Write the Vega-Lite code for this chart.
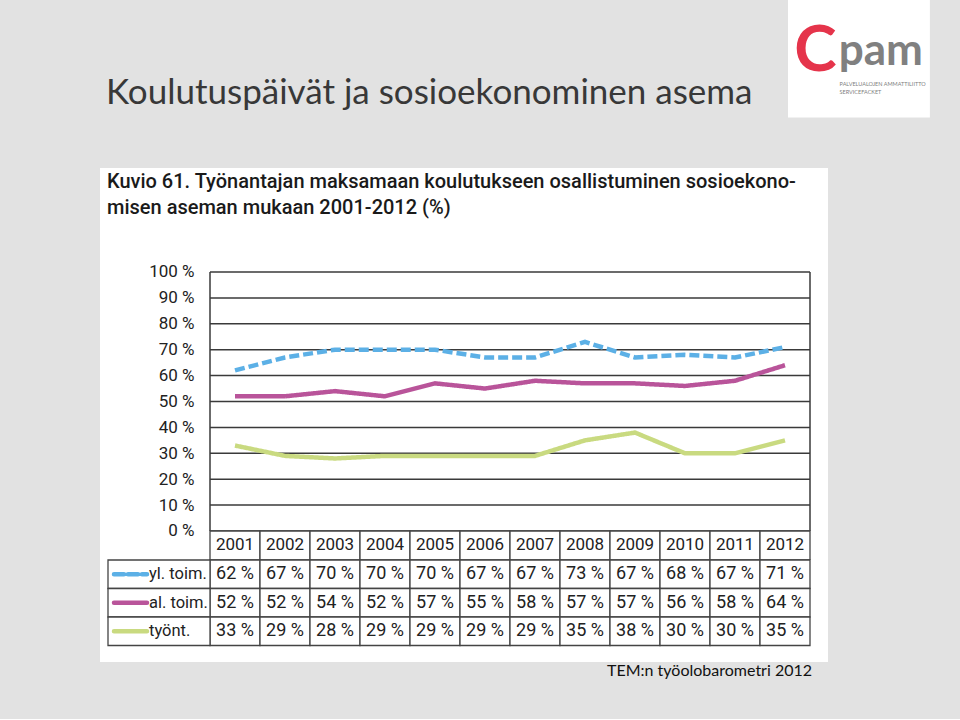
{
  "$schema": "https://vega.github.io/schema/vega-lite/v6.json",
  "background": "#e2e2e2",
  "padding": {"left": 100, "top": 0, "right": 0, "bottom": 40},
  "bounds": "flush",
  "spacing": 0,
  "config": {"view": {"stroke": null}},
  "datasets": {
    "d": [
      {"year": 2001, "series": "yl. toim.", "value": 62},
      {"year": 2002, "series": "yl. toim.", "value": 67},
      {"year": 2003, "series": "yl. toim.", "value": 70},
      {"year": 2004, "series": "yl. toim.", "value": 70},
      {"year": 2005, "series": "yl. toim.", "value": 70},
      {"year": 2006, "series": "yl. toim.", "value": 67},
      {"year": 2007, "series": "yl. toim.", "value": 67},
      {"year": 2008, "series": "yl. toim.", "value": 73},
      {"year": 2009, "series": "yl. toim.", "value": 67},
      {"year": 2010, "series": "yl. toim.", "value": 68},
      {"year": 2011, "series": "yl. toim.", "value": 67},
      {"year": 2012, "series": "yl. toim.", "value": 71},
      {"year": 2001, "series": "al. toim.", "value": 52},
      {"year": 2002, "series": "al. toim.", "value": 52},
      {"year": 2003, "series": "al. toim.", "value": 54},
      {"year": 2004, "series": "al. toim.", "value": 52},
      {"year": 2005, "series": "al. toim.", "value": 57},
      {"year": 2006, "series": "al. toim.", "value": 55},
      {"year": 2007, "series": "al. toim.", "value": 58},
      {"year": 2008, "series": "al. toim.", "value": 57},
      {"year": 2009, "series": "al. toim.", "value": 57},
      {"year": 2010, "series": "al. toim.", "value": 56},
      {"year": 2011, "series": "al. toim.", "value": 58},
      {"year": 2012, "series": "al. toim.", "value": 64},
      {"year": 2001, "series": "työnt.", "value": 33},
      {"year": 2002, "series": "työnt.", "value": 29},
      {"year": 2003, "series": "työnt.", "value": 28},
      {"year": 2004, "series": "työnt.", "value": 29},
      {"year": 2005, "series": "työnt.", "value": 29},
      {"year": 2006, "series": "työnt.", "value": 29},
      {"year": 2007, "series": "työnt.", "value": 29},
      {"year": 2008, "series": "työnt.", "value": 35},
      {"year": 2009, "series": "työnt.", "value": 38},
      {"year": 2010, "series": "työnt.", "value": 30},
      {"year": 2011, "series": "työnt.", "value": 30},
      {"year": 2012, "series": "työnt.", "value": 35}
    ]
  },
  "vconcat": [
    {
      "width": 860,
      "height": 168,
      "title": {
        "text": "Koulutuspäivät ja sosioekonominen asema",
        "anchor": "start",
        "orient": "top",
        "baseline": "alphabetic",
        "offset": -139,
        "dx": 6,
        "font": "Lato",
        "fontSize": 35,
        "fontWeight": "normal",
        "color": "#383838"
      },
      "data": {"values": [{"k": 1}]},
      "layer": [
        {
          "mark": {"type": "rect", "color": "white"},
          "encoding": {
            "x": {"datum": 0.800, "type": "quantitative", "scale": {"domain": [0, 1], "nice": false}, "axis": null},
            "x2": {"datum": 0.965},
            "y": {"datum": 0, "type": "quantitative", "scale": {"domain": [0, 1], "reverse": true, "nice": false}, "axis": null},
            "y2": {"datum": 0.7}
          }
        },
        {
          "mark": {"type": "text", "text": "C", "font": "Lato", "fontSize": 64, "fontWeight": "bold", "color": "#e5344b"},
          "encoding": {
            "x": {"datum": 0.832, "type": "quantitative", "axis": null},
            "y": {"datum": 0.31, "type": "quantitative", "axis": null}
          }
        },
        {
          "mark": {"type": "text", "text": "pam", "font": "Lato", "fontSize": 44, "fontWeight": "bold", "color": "#808080"},
          "encoding": {
            "x": {"datum": 0.908, "type": "quantitative", "axis": null},
            "y": {"datum": 0.31, "type": "quantitative", "axis": null}
          }
        },
        {
          "mark": {"type": "text", "text": "PALVELUALOJEN AMMATTILIITTO", "align": "left", "font": "Lato", "fontSize": 5.5, "color": "#808080"},
          "encoding": {
            "x": {"datum": 0.86, "type": "quantitative", "axis": null},
            "y": {"datum": 0.5, "type": "quantitative", "axis": null}
          }
        },
        {
          "mark": {"type": "text", "text": "SERVICEFACKET", "align": "left", "font": "Lato", "fontSize": 5.5, "color": "#808080"},
          "encoding": {
            "x": {"datum": 0.86, "type": "quantitative", "axis": null},
            "y": {"datum": 0.545, "type": "quantitative", "axis": null}
          }
        }
      ]
    },
    {
      "width": 728,
      "height": 392,
      "view": {"fill": "white", "stroke": null},
      "title": {
        "text": ["Kuvio 61. Työnantajan maksamaan koulutukseen osallistuminen sosioekono-", "misen aseman mukaan 2001-2012 (%)"],
        "anchor": "start",
        "orient": "top",
        "baseline": "top",
        "offset": -50,
        "dx": 7,
        "font": "Roboto",
        "fontSize": 20,
        "fontWeight": 500,
        "lineHeight": 26,
        "color": "#1a1a1a"
      },
      "resolve": {"axis": {"y": "shared"}},
      "encoding": {
        "y": {
          "type": "quantitative",
          "scale": {"domain": [-11.2, 140.15], "nice": false, "zero": false},
          "axis": {
            "values": [0, 10, 20, 30, 40, 50, 60, 70, 80, 90, 100],
            "offset": -110,
            "domain": false,
            "ticks": false,
            "grid": false,
            "title": null,
            "labelOverlap": false,
            "labelExpr": "datum.value + ' %'",
            "labelFont": "Roboto",
            "labelFontSize": 17,
            "labelColor": "#222222",
            "labelPadding": 16
          }
        }
      },
      "layer": [
        {
          "data": {"values": [{"v": 0}, {"v": 10}, {"v": 20}, {"v": 30}, {"v": 40}, {"v": 50}, {"v": 60}, {"v": 70}, {"v": 80}, {"v": 90}, {"v": 100}]},
          "mark": {"type": "rule", "color": "#3a3a3a", "strokeWidth": 1.5},
          "encoding": {
            "x": {"datum": 2000.5, "type": "quantitative", "scale": {"domain": [1998.3, 2012.86], "nice": false, "zero": false}, "axis": null},
            "x2": {"datum": 2012.5},
            "y": {"field": "v"}
          }
        },
        {
          "data": {"values": [{"xb": 2000.5, "ya": 0, "yb": 100}, {"xb": 2012.5, "ya": 0, "yb": 100}]},
          "mark": {"type": "rule", "color": "#3a3a3a", "strokeWidth": 1.5},
          "encoding": {
            "x": {"field": "xb", "type": "quantitative", "axis": null},
            "y": {"field": "ya"},
            "y2": {"field": "yb"}
          }
        },
        {
          "data": {"name": "d"},
          "transform": [
            {"filter": "datum.series == 'yl. toim.'"},
            {"calculate": "datum.year - 0.5", "as": "x0"},
            {"calculate": "datum.year + 0.5", "as": "x1"},
            {"calculate": "0", "as": "ra"},
            {"calculate": "-11.2", "as": "rb"}
          ],
          "mark": {"type": "rect", "fill": "white", "stroke": "#444444", "strokeWidth": 1.3},
          "encoding": {
            "x": {"field": "x0", "type": "quantitative", "axis": null},
            "x2": {"field": "x1"},
            "y": {"field": "ra"},
            "y2": {"field": "rb"}
          }
        },
        {
          "data": {"name": "d"},
          "transform": [
            {"filter": "datum.series == 'yl. toim.'"},
            {"calculate": "-5.6", "as": "ry"}
          ],
          "mark": {"type": "text", "font": "Roboto", "fontSize": 17, "color": "#222222"},
          "encoding": {
            "x": {"field": "year", "type": "quantitative", "axis": null},
            "y": {"field": "ry"},
            "text": {"field": "year", "type": "nominal"}
          }
        },
        {
          "data": {"name": "d"},
          "mark": {"type": "line", "strokeWidth": 4.5, "strokeCap": "butt"},
          "encoding": {
            "x": {"field": "year", "type": "quantitative", "axis": null},
            "y": {"field": "value"},
            "color": {
              "field": "series",
              "type": "nominal",
              "scale": {"domain": ["yl. toim.", "al. toim.", "työnt."], "range": ["#5cb0e6", "#b9549a", "#c9da80"]},
              "legend": null
            },
            "strokeDash": {
              "field": "series",
              "type": "nominal",
              "scale": {"domain": ["yl. toim.", "al. toim.", "työnt."], "range": [[10, 4], [1, 0], [1, 0]]},
              "legend": null
            }
          }
        }
      ]
    },
    {
      "width": 728,
      "height": 102,
      "view": {"fill": "white", "stroke": null},
      "title": {
        "text": "TEM:n työolobarometri 2012",
        "orient": "bottom",
        "anchor": "end",
        "offset": 1,
        "dx": -16,
        "font": "Lato",
        "fontSize": 16,
        "fontWeight": "normal",
        "color": "#111111"
      },
      "layer": [
        {
          "data": {"name": "d"},
          "transform": [
            {"calculate": "datum.year - 0.5", "as": "x0"},
            {"calculate": "datum.year + 0.5", "as": "x1"}
          ],
          "mark": {"type": "rect", "fill": "white", "stroke": "#444444", "strokeWidth": 1.3},
          "encoding": {
            "x": {"field": "x0", "type": "quantitative", "scale": {"domain": [1998.3, 2012.86], "nice": false, "zero": false}, "axis": null},
            "x2": {"field": "x1"},
            "y": {
              "field": "series",
              "type": "nominal",
              "scale": {"domain": ["yl. toim.", "al. toim.", "työnt."], "paddingInner": 0, "paddingOuter": 0.2895, "align": 0},
              "axis": null
            }
          }
        },
        {
          "data": {"name": "d"},
          "transform": [{"filter": "datum.year == 2001"}],
          "mark": {"type": "rect", "fill": "white", "stroke": "#444444", "strokeWidth": 1.3},
          "encoding": {
            "x": {"datum": 1998.46, "type": "quantitative", "axis": null},
            "x2": {"datum": 2000.5},
            "y": {"field": "series", "type": "nominal", "axis": null}
          }
        },
        {
          "data": {"name": "d"},
          "transform": [{"calculate": "datum.value + ' %'", "as": "label"}],
          "mark": {"type": "text", "font": "Roboto", "fontSize": 18, "color": "#222222"},
          "encoding": {
            "x": {"field": "year", "type": "quantitative", "axis": null},
            "y": {"field": "series", "type": "nominal", "axis": null},
            "text": {"field": "label", "type": "nominal"}
          }
        },
        {
          "data": {"name": "d"},
          "transform": [{"filter": "datum.year == 2001"}],
          "mark": {"type": "text", "align": "left", "font": "Roboto", "fontSize": 16.5, "color": "#222222"},
          "encoding": {
            "x": {"datum": 1999.28, "type": "quantitative", "axis": null},
            "y": {"field": "series", "type": "nominal", "axis": null},
            "text": {"field": "series", "type": "nominal"}
          }
        },
        {
          "data": {"name": "d"},
          "transform": [{"filter": "datum.year == 2001"}],
          "mark": {"type": "rule", "strokeWidth": 4.5, "strokeCap": "round"},
          "encoding": {
            "x": {"datum": 1998.58, "type": "quantitative", "axis": null},
            "x2": {"datum": 1999.24},
            "y": {"field": "series", "type": "nominal", "axis": null},
            "color": {
              "field": "series",
              "type": "nominal",
              "scale": {"domain": ["yl. toim.", "al. toim.", "työnt."], "range": ["#5cb0e6", "#b9549a", "#c9da80"]},
              "legend": null
            },
            "strokeDash": {
              "field": "series",
              "type": "nominal",
              "scale": {"domain": ["yl. toim.", "al. toim.", "työnt."], "range": [[7, 4], [1, 0], [1, 0]]},
              "legend": null
            }
          }
        }
      ]
    }
  ]
}
